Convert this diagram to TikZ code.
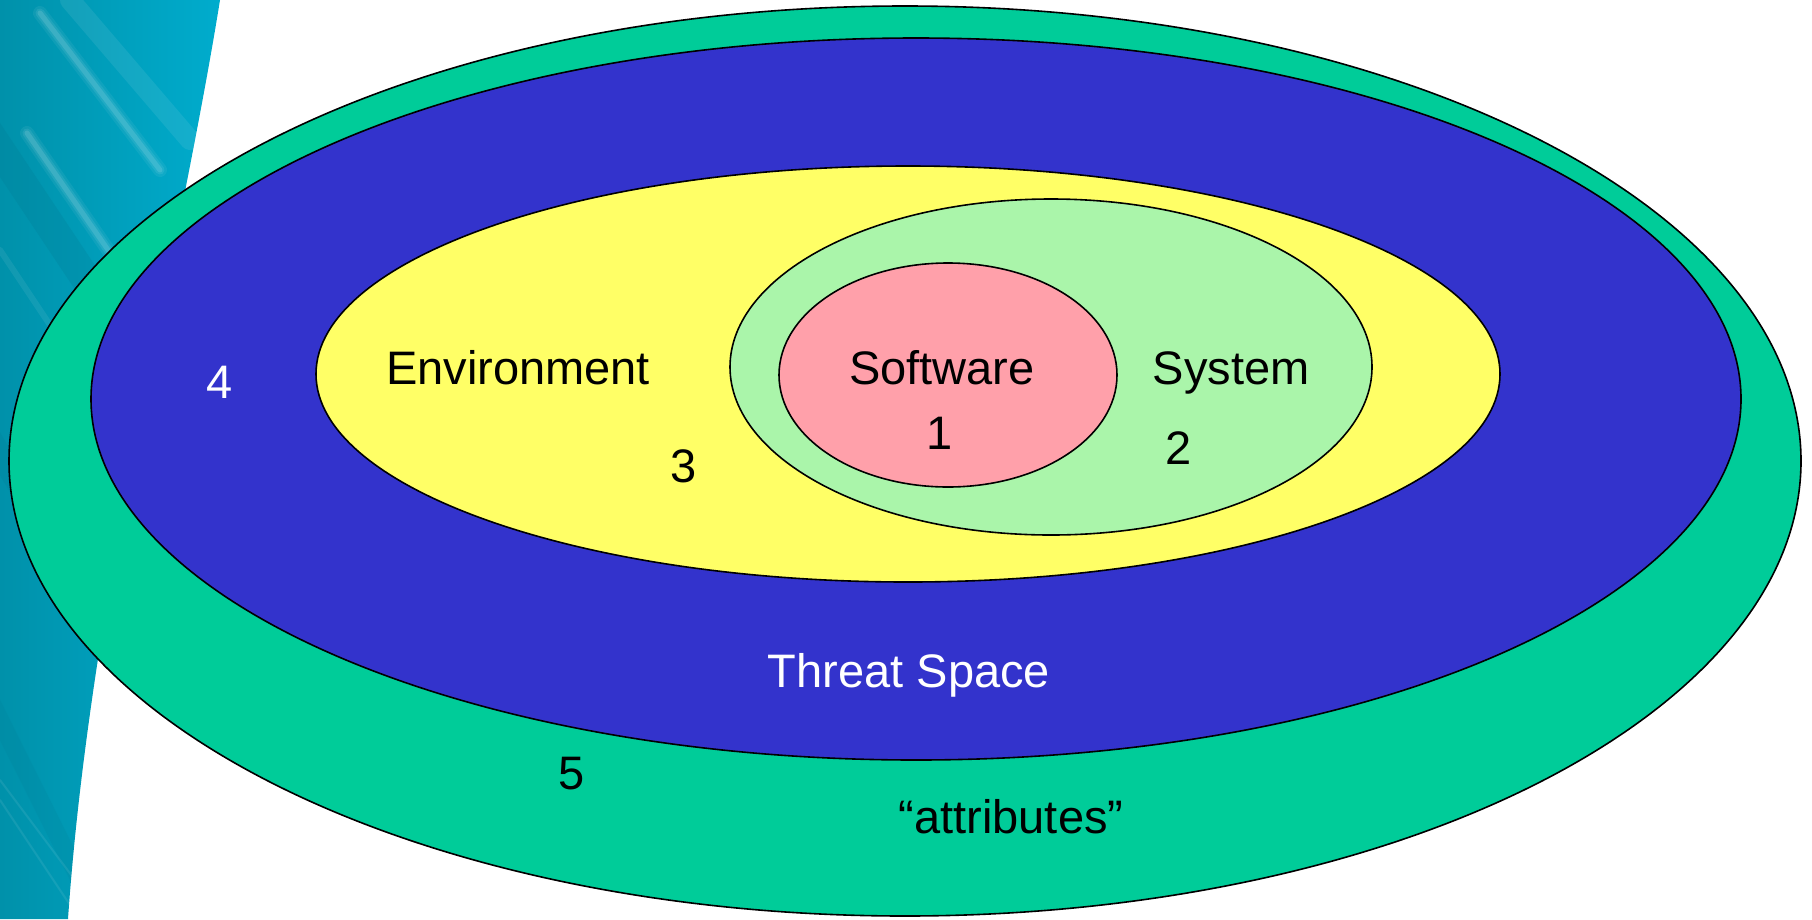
\documentclass[tikz,border=0pt]{standalone}
\usepackage{fontspec}
\setmainfont{Liberation Sans}
\usetikzlibrary{shapes.geometric}
\definecolor{outergreen}{RGB}{0,204,153}
\definecolor{threatblue}{RGB}{51,51,204}
\definecolor{envyellow}{RGB}{255,255,102}
\definecolor{sysgreen}{RGB}{170,245,170}
\definecolor{softpink}{RGB}{255,160,170}
\definecolor{stripdark}{RGB}{0,145,170}
\definecolor{striplight}{RGB}{0,172,205}
\definecolor{stripshadow}{RGB}{0,120,145}
\tikzset{
  ring/.style={ellipse, draw=black, line width=1.6pt, inner sep=0pt},
  lbl/.style={font=\fontsize{47}{56}\selectfont, inner sep=0pt,
              text height=34pt, text depth=0pt},
  streak/.style={white, line cap=round, opacity=#1},
  shadowstreak/.style={stripshadow, line cap=round, opacity=#1},
}
\begin{document}
\begin{tikzpicture}[x=1pt, y=-1pt]
\useasboundingbox (0,0) rectangle (1812,919);
% decorative teal band on the left edge
\path[left color=stripdark, right color=striplight]
  (0,0) -- (220,0) .. controls (180,250) and (90,600) .. (68,919) -- (0,919) -- cycle;
\begin{scope}
  \clip (0,0) -- (220,0) .. controls (180,250) and (90,600) .. (68,919) -- (0,919) -- cycle;
  \draw[shadowstreak=0.22, line width=30pt] (-20,120) -- (120,330);
  \draw[shadowstreak=0.18, line width=22pt] (-20,420) -- (110,640);
  \draw[shadowstreak=0.15, line width=18pt] (-10,700) -- (90,900);
  \foreach \w/\o in {14/0.06, 9/0.08, 5/0.12} {
    \draw[streak=\o, line width=\w pt] (40,13) -- (160,170);
    \draw[streak=\o, line width=\w pt] (27,133) -- (115,260);
  }
  \draw[streak=0.08, line width=20pt] (70,0) -- (190,140);
  \draw[streak=0.07, line width=6pt] (0,250) -- (100,400);
  \draw[streak=0.08, line width=2pt] (0,780) -- (75,880);
  \draw[streak=0.08, line width=2pt] (0,800) -- (70,905);
\end{scope}
% nested regions
\node[ring, fill=outergreen, minimum width=1792pt, minimum height=910pt] (attr) at (905,461) {};
\node[ring, fill=threatblue, minimum width=1650pt, minimum height=722pt] (threat) at (916,399) {};
\node[ring, fill=envyellow, minimum width=1184pt, minimum height=416pt] (env) at (908,374) {};
\node[ring, fill=sysgreen, minimum width=642pt, minimum height=336pt] (sys) at (1051,367) {};
\node[ring, fill=softpink, minimum width=338pt, minimum height=224pt] (soft) at (948,375) {};
% labels
\node[lbl] (tenv) at (518,367) {Environment};
\node[lbl] (t3) at (684,465) {3};
\node[lbl] (tsoft) at (942,367) {Software};
\node[lbl] (t1) at (940,432) {1};
\node[lbl] (tsys) at (1231,367) {System};
\node[lbl] (t2) at (1179,447) {2};
\node[lbl, text=white] (t4) at (220,381) {4};
\node[lbl, text=white] (tthreat) at (909,670) {Threat Space};
\node[lbl] (t5) at (572,772) {5};
\node[lbl] (tattr) at (1011,816) {“attributes”};
\end{tikzpicture}
\end{document}
